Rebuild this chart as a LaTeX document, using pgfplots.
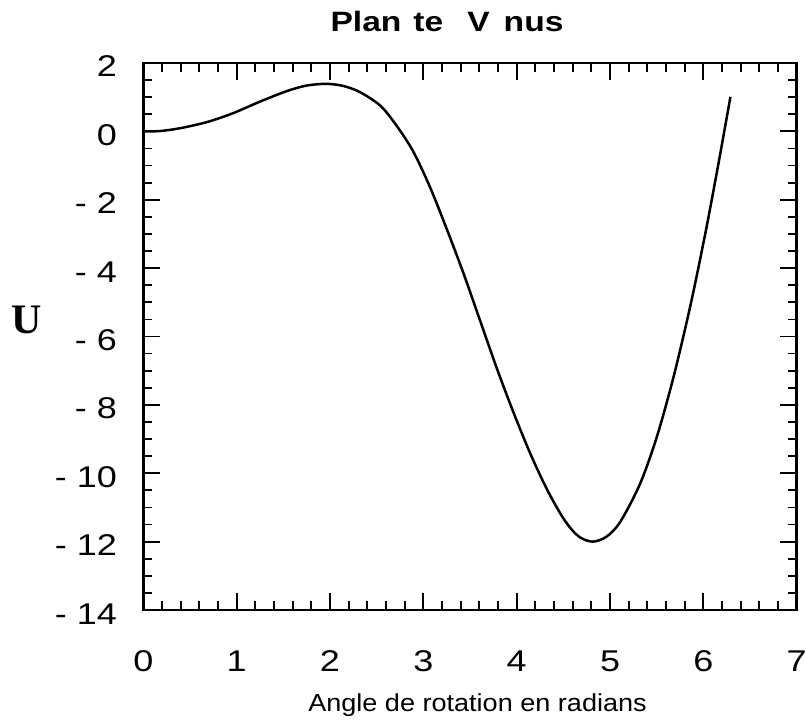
\documentclass[border=0pt]{standalone}
\usepackage{pgfplots}
\pgfplotsset{compat=1.18}
\usepackage{fontspec}
\setmainfont{Liberation Sans}
\newfontfamily\wide{Liberation Sans}[FakeStretch=1.2]
\newfontfamily\midwide{Liberation Sans}[FakeStretch=1.1]
\newfontfamily\serifb{Liberation Serif}
\begin{document}
\begin{tikzpicture}[x=1pt,y=1pt]
\path[use as bounding box] (-71.65,-55.5) rectangle (331.35,305);
\begin{axis}[
  at={(0,0)}, anchor=south west,
  width=326.7pt, height=273.5pt, scale only axis,
  xmin=0, xmax=7, ymin=-14, ymax=2,
  axis line style={line width=1.3pt},
  xtick={0,1,...,7}, ytick={-14,-12,...,2},
  minor x tick num=4, minor y tick num=3,
  tick align=inside,
  major tick length=8.5pt, minor tick length=4.5pt,
  every tick/.style={black, line width=0.9pt},
  xticklabels={0,1,2,3,4,5,6,7},
  yticklabels={- 14,- 12,- 10,- 8,- 6,- 4,- 2,0,2},
  xticklabel style={font=\wide\fontsize{15}{15}\selectfont, anchor=base, yshift=-30.5pt},
  yticklabel style={font=\wide\fontsize{15}{15}\selectfont, anchor=base east, inner xsep=0pt, xshift=-13pt, yshift=-7pt},
  title={\wide\bfseries\fontsize{14}{14}\selectfont Plan\hspace{6pt}te\hspace{12pt}V\hspace{7pt}nus},
  every axis title/.style={at={(axis description cs:0.4648,1.0567)}, anchor=base},
  xlabel={\midwide\fontsize{12.3}{12.3}\selectfont Angle de rotation en radians},
  every axis x label/.style={at={(axis description cs:0.5115,-0.185)}, anchor=base},
  ylabel={\serifb\bfseries\fontsize{21}{21}\selectfont U},
  every axis y label/.style={at={(axis description cs:-0.179,0.53)}, anchor=center},
]
\addplot[black, line width=1.25pt, smooth, tension=0.5] coordinates {
(0.00,0.00)
(0.18,0.01)
(0.39,0.09)
(0.68,0.27)
(0.96,0.53)
(1.25,0.87)
(1.54,1.18)
(1.75,1.34)
(1.96,1.39)
(2.14,1.33)
(2.32,1.15)
(2.54,0.75)
(2.71,0.18)
(2.89,-0.58)
(3.07,-1.62)
(3.25,-2.85)
(3.43,-4.15)
(3.61,-5.55)
(3.79,-6.95)
(3.97,-8.25)
(4.15,-9.45)
(4.33,-10.50)
(4.51,-11.36)
(4.66,-11.84)
(4.81,-12.00)
(4.96,-11.86)
(5.11,-11.42)
(5.32,-10.32)
(5.50,-8.95)
(5.68,-7.19)
(5.86,-5.11)
(6.02,-3.00)
(6.16,-0.97)
(6.29,1.01)
};
\end{axis}
\end{tikzpicture}
\end{document}
